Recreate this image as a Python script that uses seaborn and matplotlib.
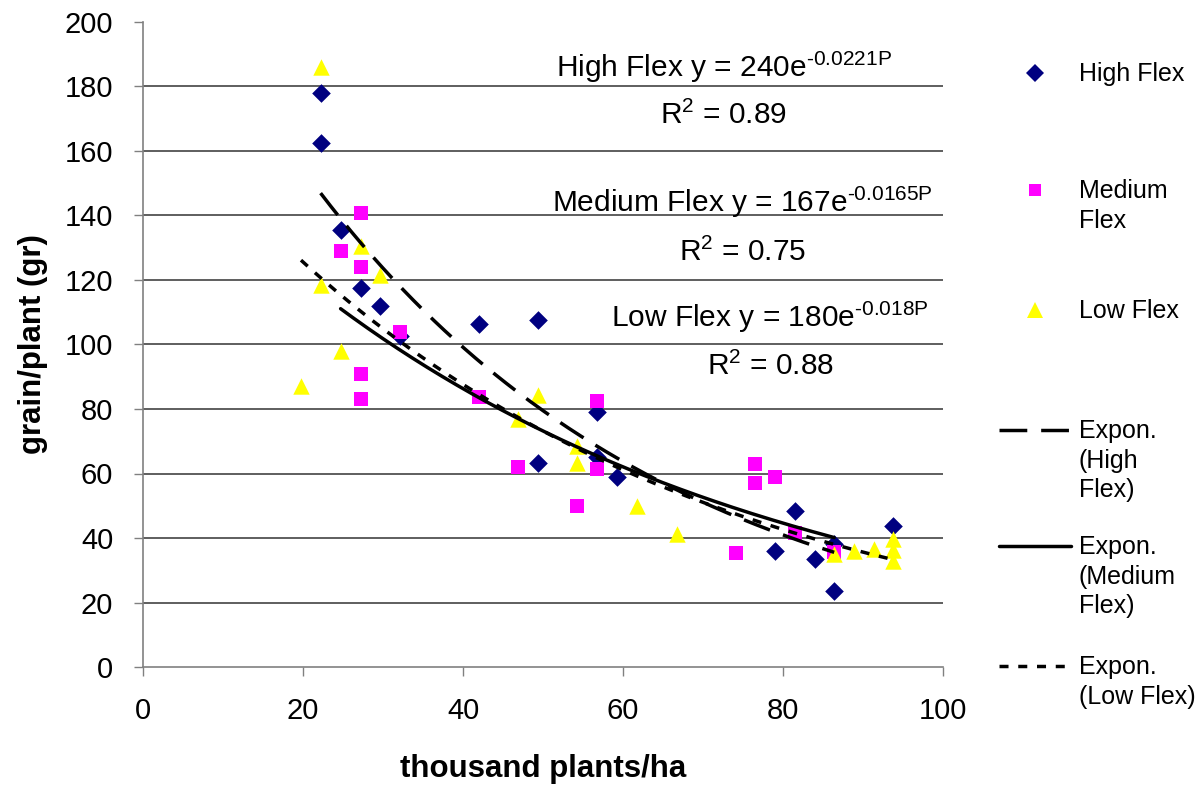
import numpy as np
import pandas as pd
import matplotlib
matplotlib.use("Agg")
import matplotlib.pyplot as plt
import seaborn as sns
from matplotlib.lines import Line2D

# ---------------- data ----------------
high_x = [22.2, 22.2, 24.7, 27.2, 29.6, 32.1, 42.0, 49.4, 49.4, 56.8, 56.8, 59.3, 79.0, 81.5, 84.0, 86.4, 86.4, 93.8]
high_y = [178, 162.5, 135.5, 117.5, 112, 102.5, 106.3, 107.5, 63.3, 79, 65, 59, 36, 48.5, 33.5, 38, 23.7, 43.7]

med_x = [24.7, 27.2, 27.2, 27.2, 27.2, 32.1, 42.0, 46.9, 54.3, 56.8, 56.8, 74.1, 76.5, 76.5, 79.0, 81.5, 86.4]
med_y = [129, 140.7, 124, 91, 83, 104, 83.7, 62, 50, 82.4, 61.4, 35.3, 63, 57, 58.8, 41.6, 35.6]

low_x = [19.75, 22.2, 22.2, 24.7, 27.2, 29.6, 46.9, 49.4, 54.3, 54.3, 61.7, 66.7, 86.4, 88.9, 91.4, 93.8, 93.8, 93.8]
low_y = [87, 186, 118.3, 98, 130.5, 121.4, 77, 84.4, 68.5, 63.3, 49.8, 41.1, 35, 36.1, 36.6, 39.7, 36.4, 32.9]

series_names = ["High Flex", "Medium Flex", "Low Flex"]
# exponential trend lines y = a * exp(b * P), as printed on the chart
trend_a = [240, 167, 180]
trend_b = ["-0.0221", "-0.0165", "-0.018"]
trend_r2 = ["0.89", "0.75", "0.88"]
trend_xmin = [22.2, 24.7, 19.75]
trend_xmax = [86.4, 86.4, 93.8]

x_ticks = [0, 20, 40, 60, 80, 100]
y_ticks = [0, 20, 40, 60, 80, 100, 120, 140, 160, 180, 200]

# ---------------- styling ----------------
sns.set_style("white")
plt.rcParams["font.family"] = ["Liberation Sans", "DejaVu Sans"]
plt.rcParams["mathtext.fontset"] = "custom"
plt.rcParams["mathtext.rm"] = "Liberation Sans"
plt.rcParams["mathtext.it"] = "Liberation Sans:italic"
plt.rcParams["mathtext.bf"] = "Liberation Sans:bold"
plt.rcParams["lines.scale_dashes"] = False
plt.rcParams["text.color"] = "black"
plt.rcParams["axes.labelcolor"] = "black"

colors = {"High Flex": "#000080", "Medium Flex": "#FF00FF", "Low Flex": "#FFFF00"}
markers = {"High Flex": "D", "Medium Flex": "s", "Low Flex": "^"}
sizes = {"High Flex": 90, "Medium Flex": 95, "Low Flex": 140}
dash_map = {"High Flex": (20, 10), "Medium Flex": "", "Low Flex": (6.5, 7)}

W, H = 1203, 788
fig = plt.figure(figsize=(W / 100, H / 100), dpi=100)
ax = fig.add_axes([143 / W, 1 - 667 / H, 800 / W, 645 / H])

pts = pd.DataFrame({
    "x": high_x + med_x + low_x,
    "y": high_y + med_y + low_y,
    "series": ["High Flex"] * len(high_x) + ["Medium Flex"] * len(med_x) + ["Low Flex"] * len(low_x),
})

for name in series_names:
    sub = pts[pts["series"] == name]
    sns.scatterplot(data=sub, x="x", y="y", ax=ax, color=colors[name],
                    marker=markers[name], s=sizes[name], linewidth=0,
                    legend=False, zorder=3)

rows = []
for name, a, b, x0, x1 in zip(series_names, trend_a, trend_b, trend_xmin, trend_xmax):
    xs = np.linspace(x0, x1, 200)
    for xv in xs:
        rows.append({"x": xv, "y": a * np.exp(float(b) * xv), "series": name})
trend = pd.DataFrame(rows)
sns.lineplot(data=trend, x="x", y="y", style="series", dashes=dash_map,
             color="black", linewidth=2.5, ax=ax, legend=False, zorder=4,
             sort=False, estimator=None)

ax.set_xlim(0, 100)
ax.set_ylim(0, 200)
ax.set_xticks(x_ticks)
ax.set_yticks(y_ticks)
ax.tick_params(axis="both", direction="out", length=6.5, width=1, color="#808080",
               labelcolor="black", labelsize=21, pad=15, left=True, bottom=True)
for s in ["top", "right"]:
    ax.spines[s].set_visible(False)
for s in ["left", "bottom"]:
    ax.spines[s].set_color("#808080")
    ax.spines[s].set_linewidth(1.2)
for yv in y_ticks[1:-1]:
    ax.axhline(yv, color="#333333", linewidth=1.1, zorder=0)

ax.set_xlabel("thousand plants/ha", fontsize=22.5, fontweight="bold", labelpad=21)
ax.set_ylabel("grain/plant (gr)", fontsize=22.5, fontweight="bold", labelpad=12)

# equation annotations
eq_x = [72.6, 74.9, 78.4]
eq_y = [182.8, 141.0, 105.4]
r2_y = [168.5, 126.0, 90.4]
for name, a, b, r2, ex, ey, ry in zip(series_names, trend_a, trend_b, trend_r2, eq_x, eq_y, r2_y):
    sup = b.replace("-", "\u2010")
    ax.text(ex, ey, "%s y = %de$^{\\mathregular{%sP}}$" % (name, a, sup),
            ha="center", va="baseline", fontsize=21.5, zorder=5)
    ax.text(ex, ry, "R$^{\\mathregular{2}}$ = %s" % r2,
            ha="center", va="baseline", fontsize=21.5, zorder=5)

# manual legend, Excel style
def fx(px):
    return px / W

def fy(py):
    return 1 - py / H

leg_fs = 18
marker_rows = [("High Flex", 73, "High Flex"), ("Medium Flex", 190, "Medium\nFlex"), ("Low Flex", 310, "Low Flex")]
for name, py, label in marker_rows:
    fig.add_artist(Line2D([fx(1035)], [fy(py)], transform=fig.transFigure, marker=markers[name],
                          color=colors[name], markersize=9 if name != "Low Flex" else 11,
                          markeredgewidth=0, linestyle="none"))
    fig.text(fx(1079), fy(py - 11), label, ha="left", va="top", fontsize=leg_fs, linespacing=1.3)

line_rows = [("High Flex", 430, "Expon.\n(High\nFlex)"), ("Medium Flex", 546, "Expon.\n(Medium\nFlex)"),
             ("Low Flex", 666, "Expon.\n(Low Flex)")]
for name, py, label in line_rows:
    ln = Line2D([fx(999), fx(1071)], [fy(py), fy(py)], transform=fig.transFigure,
                color="black", linewidth=2.5)
    if dash_map[name]:
        ln.set_dashes(dash_map[name])
    fig.add_artist(ln)
    fig.text(fx(1079), fy(py - 11), label, ha="left", va="top", fontsize=leg_fs, linespacing=1.3)

fig.savefig("out.png", dpi=100)
